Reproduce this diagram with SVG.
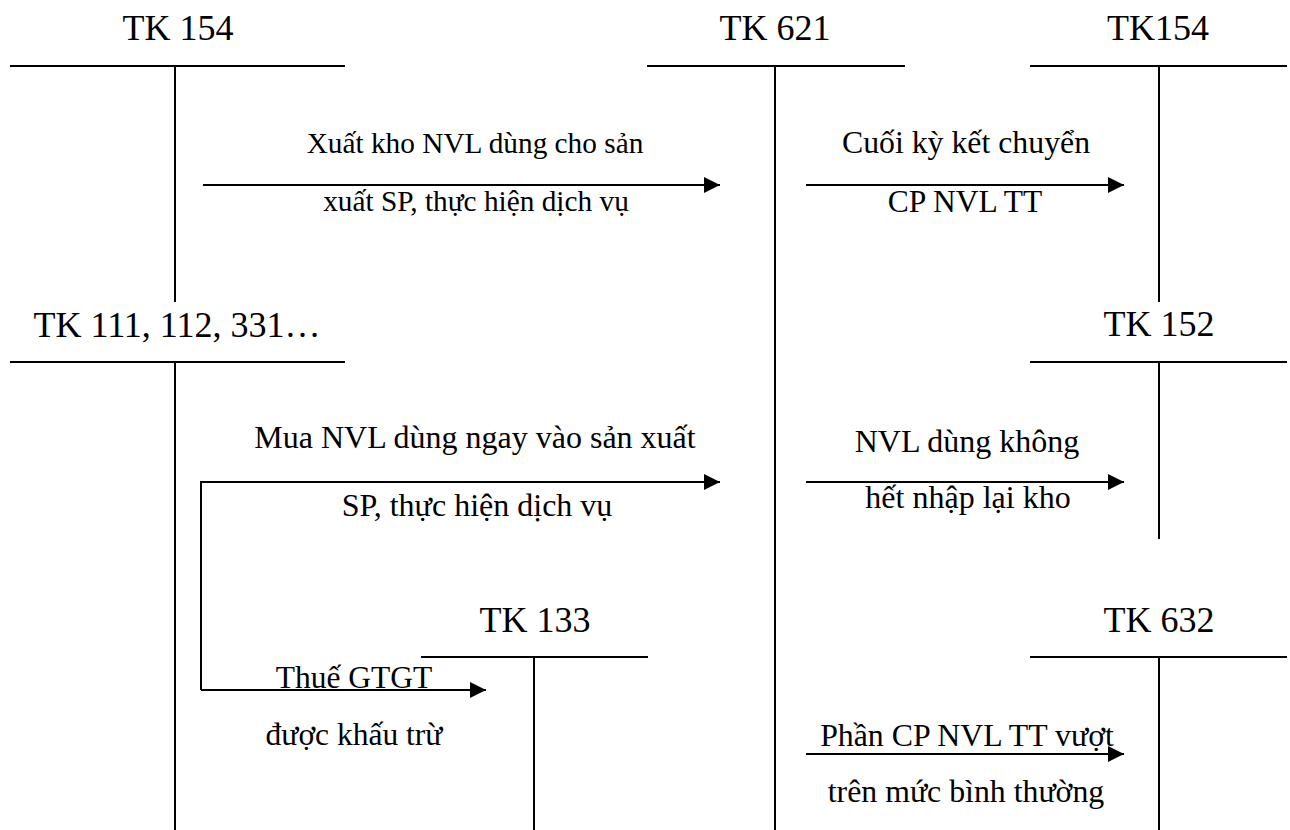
<svg xmlns="http://www.w3.org/2000/svg" width="1290" height="830" viewBox="0 0 1290 830">
  <style>
    .t { stroke: #000; stroke-width: 2; fill: none; }
    .c { stroke: #000; stroke-width: 2; fill: none; marker-end: url(#arrow); }
    .title { font-family: "Liberation Serif", "Times New Roman", serif; font-size: 36px; fill: #000; text-anchor: middle; }
    .lbl { font-family: "Liberation Serif", "Times New Roman", serif; font-size: 32px; fill: #000; text-anchor: middle; }
  </style>
  <defs>
    <marker id="arrow" markerUnits="userSpaceOnUse" markerWidth="16" markerHeight="16" refX="16" refY="8" orient="auto">
      <path d="M0,0 L16,8 L0,16 Z" fill="#000"/>
    </marker>
  </defs>
  <rect width="1290" height="830" fill="#fff"/>

  <!-- T-accounts -->
  <g id="tk154-left">
    <text class="title" x="178" y="40">TK 154</text>
    <path class="t" d="M10,66 H345 M175,66 V302"/>
  </g>
  <g id="tk621">
    <text class="title" x="775" y="40">TK 621</text>
    <path class="t" d="M647,66 H905 M775,66 V830"/>
  </g>
  <g id="tk154-right">
    <text class="title" x="1158" y="40">TK154</text>
    <path class="t" d="M1030,66 H1287 M1159,66 V302"/>
  </g>
  <g id="tk111">
    <text class="title" x="177" y="337">TK 111, 112, 331…</text>
    <path class="t" d="M10,362 H345 M175,362 V830"/>
  </g>
  <g id="tk152">
    <text class="title" x="1159" y="336">TK 152</text>
    <path class="t" d="M1030,362 H1287 M1159,362 V539"/>
  </g>
  <g id="tk133">
    <text class="title" x="535" y="632">TK 133</text>
    <path class="t" d="M421,657 H648 M534,657 V830"/>
  </g>
  <g id="tk632">
    <text class="title" x="1159" y="632">TK 632</text>
    <path class="t" d="M1030,657 H1287 M1159,657 V830"/>
  </g>

  <!-- Entries -->
  <g id="connectors">
    <path class="c" d="M203,185 H720"/>
    <path class="c" d="M806,185 H1124"/>
    <path class="c" d="M201,690 V482 H720" stroke-linejoin="miter"/>
    <path class="c" d="M806,482 H1124"/>
    <path class="c" d="M201,690 H486"/>
    <path class="c" d="M806,754 H1124"/>
  </g>

  <g id="labels">
    <text class="lbl" x="475" y="153" style="font-size:29.3px">Xuất kho NVL dùng cho sản</text>
    <text class="lbl" x="476" y="211" style="font-size:29.3px">xuất SP, thực hiện dịch vụ</text>
    <text class="lbl" x="966" y="153" style="font-size:31.8px">Cuối kỳ kết chuyển</text>
    <text class="lbl" x="965" y="212" style="font-size:31.5px">CP NVL TT</text>
    <text class="lbl" x="475" y="448">Mua NVL dùng ngay vào sản xuất</text>
    <text class="lbl" x="477" y="516">SP, thực hiện dịch vụ</text>
    <text class="lbl" x="967" y="452">NVL dùng không</text>
    <text class="lbl" x="968" y="508">hết nhập lại kho</text>
    <text class="lbl" x="354" y="688" style="font-size:31.5px">Thuế GTGT</text>
    <text class="lbl" x="354" y="745" style="font-size:31.5px">được khấu trừ</text>
    <text class="lbl" x="967" y="746" style="font-size:31.8px">Phần CP NVL TT vượt</text>
    <text class="lbl" x="966" y="802" style="font-size:31.8px">trên mức bình thường</text>
  </g>
</svg>
